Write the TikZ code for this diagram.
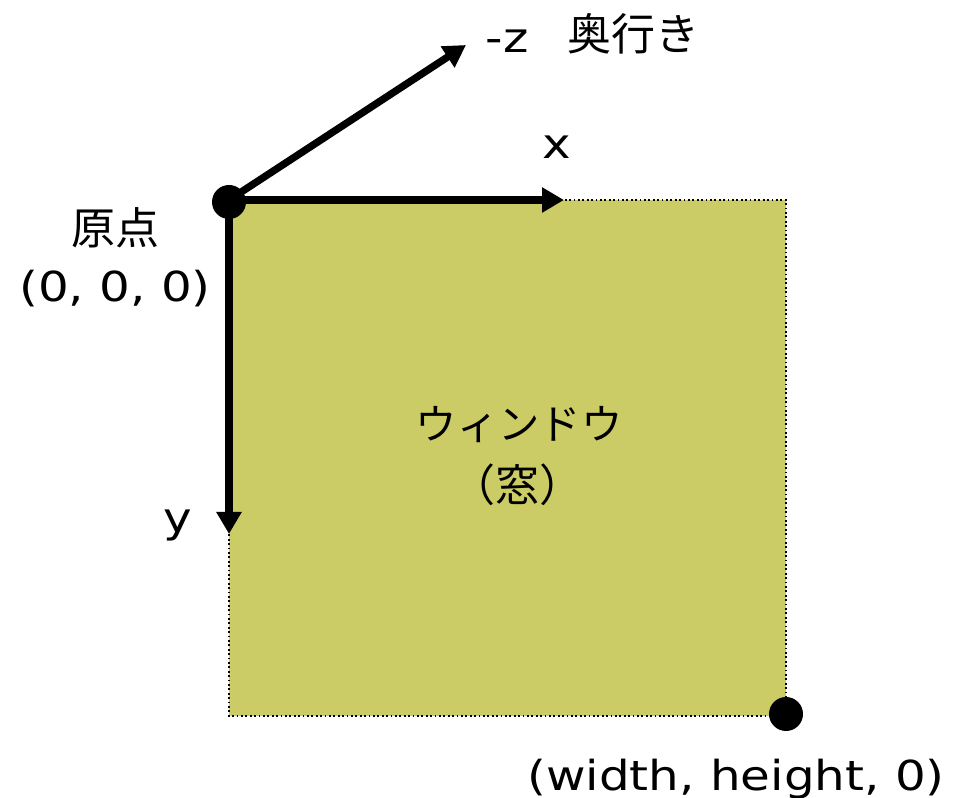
\documentclass[tikz,border=0pt]{standalone}
\usepackage{fontspec}
\setmainfont[FakeStretch=1.17]{DejaVu Sans}
\newfontfamily\jp{Noto Sans CJK JP}
\usetikzlibrary{arrows.meta}
\definecolor{winfill}{RGB}{204,204,102}
\begin{document}
\begin{tikzpicture}[x=0.75pt,y=-0.75pt,
  lbl/.style={inner sep=0pt,anchor=base,font=\fontsize{31}{36}\selectfont},
  jlbl/.style={inner sep=0pt,anchor=center,font=\fontsize{33}{38}\selectfont\jp},
  klbl/.style={inner sep=0pt,anchor=center,font=\fontsize{31}{36}\selectfont\jp},
  dot/.style={circle,fill=black,inner sep=0pt,minimum size=25.5pt},
  axis/.style={line width=5.5pt,-{Triangle[length=16.5pt,width=18pt]}},
  window/.style={fill=winfill,draw=black,line width=1.4pt,dash pattern=on 1.4pt off 1.9pt}]
\useasboundingbox (0,0) rectangle (961,798);
% window
\path[window] (229,200) rectangle (786,716);
\coordinate (tl) at (229,200);
\coordinate (xend) at (564,200);
\coordinate (yend) at (229,534);
\coordinate (zend) at (466,45);
% axes
\draw[axis] (tl) -- (xend);
\draw[axis] (tl) -- (yend);
\draw[axis] (tl) -- (zend);
% dots
\node[dot] (o) at (229,202) {};
\node[dot] (br) at (786,714) {};
% labels
\node[lbl] (zl) at (507,53) {-z};
\node[jlbl] (depth) at (633,34) {奥行き};
\node[lbl] (xl) at (557,159) {x};
\node[jlbl] (orig) at (115,228) {原点};
\node[lbl] (origc) at (115,302) {(0, 0, 0)};
\node[lbl] (yl) at (178,533) {y};
\node[klbl] (win) at (519,425) {ウィンドウ};
\node[jlbl] (mado) at (517,485) {（窓）};
\node[lbl] (brc) at (736,790) {(width, height, 0)};
\end{tikzpicture}
\end{document}
